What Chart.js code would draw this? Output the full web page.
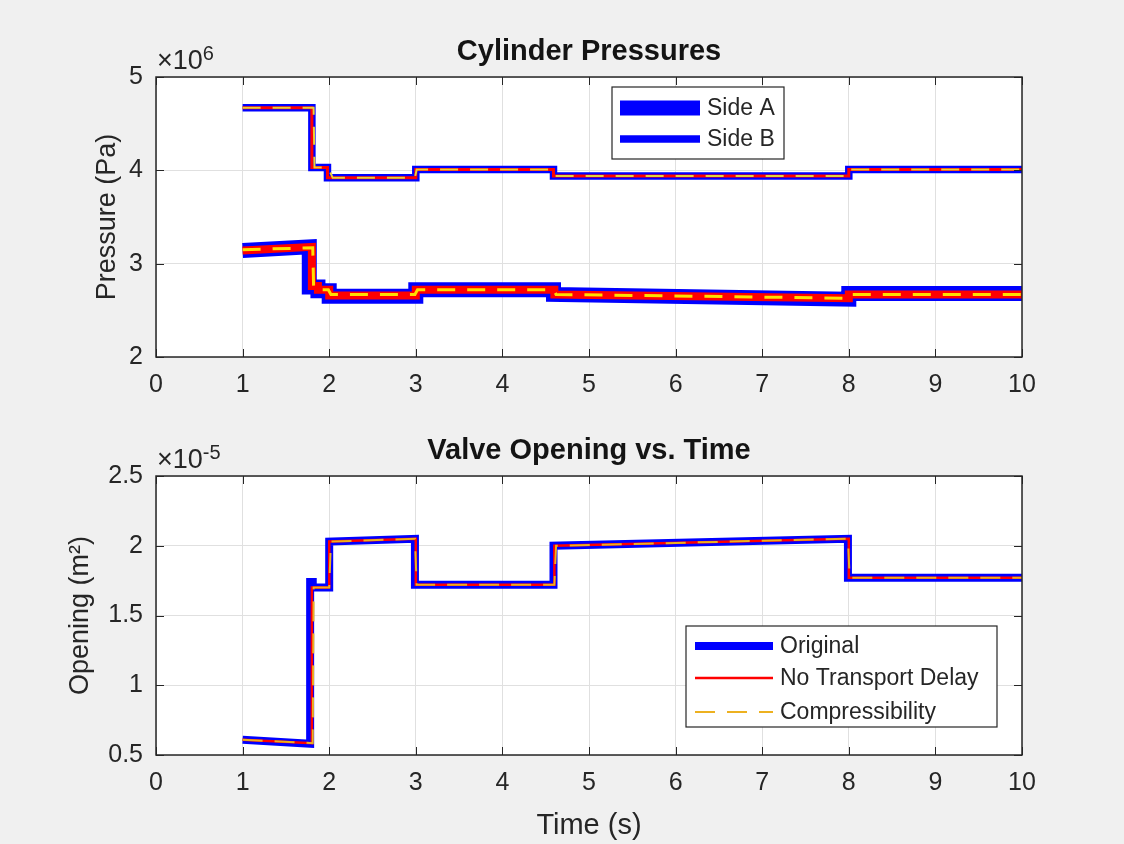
<!DOCTYPE html>
<html>
<head>
<meta charset="utf-8">
<title>Cylinder Pressures / Valve Opening</title>
<script src="https://cdn.jsdelivr.net/npm/chart.js@4.4.1/dist/chart.umd.min.js"></script>
<style>
  html, body { margin: 0; padding: 0; background: #f0f0f0; }
  #wrap { position: relative; width: 1124px; height: 844px; overflow: hidden; }
  canvas { position: absolute; left: 0; }
  #pressure { top: 0; }
  #opening { top: 420px; }
</style>
</head>
<body>
<div id="wrap">
  <canvas id="pressure" width="1124" height="420"></canvas>
  <canvas id="opening" width="1124" height="424"></canvas>
</div>
<script>
// ---- data (pressure in 1e6 Pa, opening in 1e-5 m^2) ----
const xTicks = [0, 1, 2, 3, 4, 5, 6, 7, 8, 9, 10];
const pressureTicks = [2, 3, 4, 5];
const openingTicks = [0.5, 1, 1.5, 2, 2.5];

// Side A (lower trace)
const timeA_orig = [1, 1.77, 1.77, 1.87, 1.87, 2.0, 2.0, 3.0, 3.0, 4.59, 4.59, 8.0, 8.0, 10];
const sideA_orig = [3.14, 3.18, 2.75, 2.75, 2.71, 2.71, 2.65, 2.65, 2.72, 2.72, 2.67, 2.62, 2.68, 2.68];
const timeA_noDelay = [1, 1.80, 1.80, 1.87, 1.87, 2.0, 2.0, 3.0, 3.0, 4.6, 4.6, 8.0, 8.0, 10];
const sideA_noDelay = [3.14, 3.18, 2.76, 2.76, 2.72, 2.72, 2.66, 2.66, 2.72, 2.72, 2.67, 2.63, 2.67, 2.67];
const timeA_comp = [1, 1.81, 1.82, 1.87, 1.89, 1.99, 2.02, 2.99, 3.02, 4.59, 4.62, 7.98, 8.02, 10];
const sideA_comp = [3.15, 3.17, 2.75, 2.75, 2.72, 2.72, 2.67, 2.67, 2.72, 2.72, 2.67, 2.63, 2.67, 2.67];

// Side B (upper trace)
const timeB_orig = [1, 1.80, 1.80, 1.98, 1.98, 3.0, 3.0, 4.59, 4.59, 8.0, 8.0, 10];
const sideB_orig = [4.67, 4.67, 4.03, 4.03, 3.92, 3.92, 4.01, 4.01, 3.94, 3.94, 4.01, 4.01];
const timeB_comp = [1, 1.82, 1.83, 1.99, 2.04, 2.99, 3.01, 4.58, 4.61, 7.99, 8.02, 10];
const sideB_comp = [4.67, 4.67, 4.03, 4.03, 3.92, 3.92, 4.01, 4.01, 3.94, 3.94, 4.01, 4.01];

// Valve opening
const timeV_orig = [1, 1.78, 1.78, 1.81, 1.81, 2.0, 2.0, 2.99, 2.99, 4.59, 4.59, 7.99, 7.99, 10];
const open_orig = [0.61, 0.58, 1.74, 1.74, 1.70, 1.70, 2.03, 2.05, 1.72, 1.72, 2.00, 2.05, 1.77, 1.77];
const timeV_noDelay = [1, 1.80, 1.80, 2.0, 2.0, 3.0, 3.0, 4.6, 4.6, 8.0, 8.0, 10];
const open_noDelay = [0.61, 0.585, 1.70, 1.70, 2.03, 2.05, 1.72, 1.72, 2.00, 2.05, 1.77, 1.77];
const timeV_comp = [1, 1.81, 1.82, 2.0, 2.02, 2.99, 3.01, 4.6, 4.62, 7.99, 8.01, 10];
const open_comp = [0.61, 0.585, 1.70, 1.70, 2.03, 2.05, 1.72, 1.72, 2.00, 2.05, 1.77, 1.77];

const FONT = '"Liberation Sans", Arial, Helvetica, sans-serif';
const INK = '#262626';

function pts(t, v) {
    return t.map((x, i) => ({x: x, y: v[i]}));
}

// white plot box, matlab style frame, inward ticks, title, exponent and legend
const matlabAxes = {
    id: 'matlabAxes',
    beforeDraw(chart) {
        const {ctx, chartArea: a} = chart;
        ctx.save();
        ctx.fillStyle = '#ffffff';
        ctx.fillRect(a.left, a.top, a.right - a.left, a.bottom - a.top);
        ctx.restore();
    },
    afterDraw(chart, args, opts) {
        const {ctx, chartArea: a, scales: {x, y}} = chart;
        ctx.save();
        ctx.strokeStyle = INK;
        ctx.lineWidth = 1;
        ctx.beginPath();
        x.ticks.forEach(t => {
            const px = Math.round(x.getPixelForValue(t.value)) + 0.5;
            ctx.moveTo(px, a.bottom); ctx.lineTo(px, a.bottom - 8);
            ctx.moveTo(px, a.top); ctx.lineTo(px, a.top + 8);
        });
        y.ticks.forEach(t => {
            const py = Math.round(y.getPixelForValue(t.value)) + 0.5;
            ctx.moveTo(a.left, py); ctx.lineTo(a.left + 8, py);
            ctx.moveTo(a.right, py); ctx.lineTo(a.right - 8, py);
        });
        ctx.stroke();
        ctx.lineWidth = 1.5;
        ctx.strokeRect(a.left, a.top, a.right - a.left, a.bottom - a.top);

        // title
        ctx.fillStyle = '#141414';
        ctx.font = 'bold 29px ' + FONT;
        ctx.textAlign = 'center';
        ctx.textBaseline = 'middle';
        ctx.fillText(opts.title, (a.left + a.right) / 2, opts.titleY);

        // exponent label
        ctx.fillStyle = INK;
        ctx.textAlign = 'left';
        ctx.textBaseline = 'alphabetic';
        ctx.font = '27px ' + FONT;
        const base = '\u00d710';
        ctx.fillText(base, a.left + 1, a.top - 8);
        const w = ctx.measureText(base).width;
        ctx.font = '20px ' + FONT;
        ctx.fillText(opts.exponent, a.left + 1 + w, a.top - 17);

        // legend
        const L = opts.legend;
        const items = chart.data.datasets.filter(d => d.inLegend);
        ctx.fillStyle = '#ffffff';
        ctx.fillRect(L.left, L.top, L.right - L.left, L.bottom - L.top);
        ctx.strokeStyle = INK;
        ctx.lineWidth = 1.2;
        ctx.strokeRect(L.left, L.top, L.right - L.left, L.bottom - L.top);
        items.forEach((d, i) => {
            const ry = L.rows[i];
            ctx.save();
            ctx.strokeStyle = d.borderColor;
            ctx.lineWidth = d.borderWidth;
            ctx.setLineDash(d.borderDash || []);
            ctx.beginPath();
            ctx.moveTo(L.lineX0, ry);
            ctx.lineTo(L.lineX1, ry);
            ctx.stroke();
            ctx.restore();
            ctx.fillStyle = INK;
            ctx.font = '23px ' + FONT;
            ctx.textAlign = 'left';
            ctx.textBaseline = 'middle';
            ctx.fillText(d.label, L.textX, ry + 1);
        });
        ctx.restore();
    }
};

function axisOpts(ticks, fit, extra) {
    return Object.assign({
        type: 'linear',
        min: ticks[0],
        max: ticks[ticks.length - 1],
        afterBuildTicks: s => { s.ticks = ticks.map(v => ({value: v})); },
        ticks: {
            color: INK,
            font: {family: FONT, size: 25},
            padding: 13,
            maxRotation: 0,
            autoSkip: false,
            callback: v => String(v)
        },
        grid: {color: '#e0e0e0', lineWidth: 1, drawTicks: false},
        border: {display: false},
        afterFit: fit
    }, extra || {});
}

function line(label, t, v, color, width, order, dash, inLegend) {
    return {
        label: label,
        data: pts(t, v),
        borderColor: color,
        backgroundColor: color,
        borderWidth: width,
        borderDash: dash || [],
        borderJoinStyle: 'miter',
        pointRadius: 0,
        tension: 0,
        fill: false,
        order: order,
        inLegend: !!inLegend
    };
}

const common = {
    responsive: false,
    animation: false,
    events: [],
    plugins: {
        legend: {display: false},
        tooltip: {enabled: false},
        title: {display: false}
    }
};

new Chart(document.getElementById('pressure'), {
    type: 'line',
    data: {
        datasets: [
            line('Side A', timeA_orig, sideA_orig, '#0000ff', 15, 3, null, true),
            line('Side B', timeB_orig, sideB_orig, '#0000ff', 7.5, 3, null, true),
            line('Side A no delay', timeA_noDelay, sideA_noDelay, '#ff0000', 8, 2),
            line('Side B no delay', timeB_orig, sideB_orig, '#ff0000', 3, 2),
            line('Side A compressibility', timeA_comp, sideA_comp, '#ffe000', 3, 1, [18, 12]),
            line('Side B compressibility', timeB_comp, sideB_comp, '#e8d23a', 2, 1, [18, 12])
        ]
    },
    options: Object.assign({}, common, {
        layout: {padding: {left: 0, right: 102, top: 77, bottom: 0}},
        scales: {
            x: axisOpts(xTicks, s => { s.height = 63; }),
            y: axisOpts(pressureTicks, s => { s.width = 156; }, {
                title: {display: true, text: 'Pressure (Pa)', color: INK,
                        font: {family: FONT, size: 27}, padding: {top: 91, bottom: 0}}
            })
        },
        plugins: Object.assign({}, common.plugins, {
            matlabAxes: {
                title: 'Cylinder Pressures', titleY: 52, exponent: '6',
                legend: {left: 612, top: 87, right: 784, bottom: 159,
                         rows: [108, 139], lineX0: 620, lineX1: 700, textX: 707}
            }
        })
    }),
    plugins: [matlabAxes]
});

new Chart(document.getElementById('opening'), {
    type: 'line',
    data: {
        datasets: [
            line('Original', timeV_orig, open_orig, '#0000ff', 8, 3, null, true),
            line('No Transport Delay', timeV_noDelay, open_noDelay, '#ff0000', 2.5, 2, null, true),
            line('Compressibility', timeV_comp, open_comp, '#edb120', 2, 1, [20, 12], true)
        ]
    },
    options: Object.assign({}, common, {
        layout: {padding: {left: 0, right: 102, top: 56, bottom: 0}},
        scales: {
            x: axisOpts(xTicks, s => { s.height = 89; }, {
                title: {display: true, text: 'Time (s)', color: INK,
                        font: {family: FONT, size: 29}, padding: {top: 0, bottom: 1}}
            }),
            y: axisOpts(openingTicks, s => { s.width = 156; }, {
                title: {display: true, text: 'Opening (m\u00b2)', color: INK,
                        font: {family: FONT, size: 27}, padding: {top: 64, bottom: 0}}
            })
        },
        plugins: Object.assign({}, common.plugins, {
            matlabAxes: {
                title: 'Valve Opening vs. Time', titleY: 31, exponent: '-5',
                legend: {left: 686, top: 206, right: 997, bottom: 307,
                         rows: [226, 258, 292], lineX0: 695, lineX1: 773, textX: 780}
            }
        })
    }),
    plugins: [matlabAxes]
});
</script>
</body>
</html>
